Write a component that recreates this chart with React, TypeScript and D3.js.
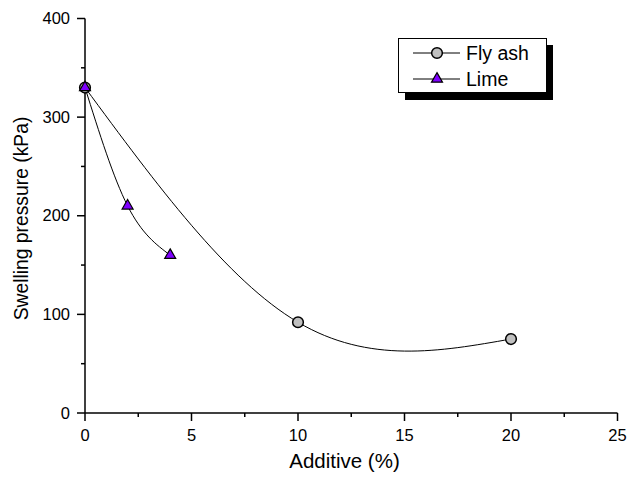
import React, { useEffect, useRef } from "react";
import * as d3 from "d3";

// Swelling pressure against additive content
const flyAshAdditive = [0, 10, 20];
const flyAshPressure = [330, 92, 75];
const limeAdditive = [0, 2, 4];
const limePressure = [330, 210, 160];

const xTicks = [0, 5, 10, 15, 20, 25];
const yTicks = [0, 100, 200, 300, 400];
const xMinorTicks = [2.5, 7.5, 12.5, 17.5, 22.5];
const yMinorTicks = [50, 150, 250, 350];

const W = 628;
const H = 477;
const FONT = "Arial, 'Liberation Sans', sans-serif";

export default function App() {
  const ref = useRef<SVGSVGElement>(null);

  useEffect(() => {
    const svg = d3.select(ref.current);
    svg.selectAll("*").remove();

    const x = d3.scaleLinear().domain([0, 25]).range([85, 617.5]);
    const y = d3.scaleLinear().domain([0, 400]).range([413, 18.5]);

    // axes
    const ax = svg.append("g").attr("stroke", "#000").attr("stroke-width", 1.5);
    ax.append("line").attr("x1", x(0)).attr("x2", x(25)).attr("y1", y(0)).attr("y2", y(0));
    ax.append("line").attr("x1", x(0)).attr("x2", x(0)).attr("y1", y(0)).attr("y2", y(400));

    xTicks.forEach((t) => {
      ax.append("line").attr("x1", x(t)).attr("x2", x(t)).attr("y1", y(0)).attr("y2", y(0) + 8);
    });
    xMinorTicks.forEach((t) => {
      ax.append("line").attr("x1", x(t)).attr("x2", x(t)).attr("y1", y(0)).attr("y2", y(0) + 4);
    });
    yTicks.forEach((t) => {
      ax.append("line").attr("x1", x(0) - 8).attr("x2", x(0)).attr("y1", y(t)).attr("y2", y(t));
    });
    yMinorTicks.forEach((t) => {
      ax.append("line").attr("x1", x(0) - 4).attr("x2", x(0)).attr("y1", y(t)).attr("y2", y(t));
    });

    const labels = svg.append("g").attr("font-family", FONT).attr("font-size", 16.5).attr("fill", "#000");
    xTicks.forEach((t) => {
      labels.append("text").attr("x", x(t)).attr("y", y(0) + 27.5).attr("text-anchor", "middle").text(t);
    });
    yTicks.forEach((t) => {
      labels.append("text").attr("x", x(0) - 15).attr("y", y(t) + 5.5).attr("text-anchor", "end").text(t);
    });

    svg.append("text")
      .attr("x", 344.5)
      .attr("y", 468)
      .attr("text-anchor", "middle")
      .attr("font-family", FONT)
      .attr("font-size", 20.5)
      .text("Additive (%)");

    svg.append("text")
      .attr("transform", `translate(28,218.5) rotate(-90)`)
      .attr("text-anchor", "middle")
      .attr("font-family", FONT)
      .attr("font-size", 19.3)
      .text("Swelling pressure (kPa)");

    // smoothed curves
    const line = d3.line<[number, number]>()
      .x((d) => x(d[0]))
      .y((d) => y(d[1]))
      .curve(d3.curveNatural);

    const flyPts = flyAshAdditive.map((a, i) => [a, flyAshPressure[i]] as [number, number]);
    const limePts = limeAdditive.map((a, i) => [a, limePressure[i]] as [number, number]);

    svg.append("path").attr("d", line(flyPts)).attr("fill", "none").attr("stroke", "#000").attr("stroke-width", 1);
    svg.append("path").attr("d", line(limePts)).attr("fill", "none").attr("stroke", "#000").attr("stroke-width", 1);

    const circle = d3.symbol().type(d3.symbolCircle).size(90);
    const tri = d3.symbol().type(d3.symbolTriangle).size(52);

    flyPts.forEach((p) => {
      svg.append("path")
        .attr("d", circle())
        .attr("transform", `translate(${x(p[0])},${y(p[1])})`)
        .attr("fill", "#c0c0c0")
        .attr("stroke", "#000")
        .attr("stroke-width", 1.5);
    });
    limePts.forEach((p) => {
      svg.append("path")
        .attr("d", tri())
        .attr("transform", `translate(${x(p[0])},${y(p[1])})`)
        .attr("fill", "#7f00ff")
        .attr("stroke", "#000")
        .attr("stroke-width", 1.2);
    });

    // legend
    const lg = svg.append("g");
    lg.append("rect").attr("x", 405).attr("y", 45).attr("width", 148).attr("height", 55).attr("fill", "#000");
    lg.append("rect").attr("x", 398.5).attr("y", 38.5).attr("width", 148).attr("height", 54)
      .attr("fill", "#fff").attr("stroke", "#000").attr("stroke-width", 1);

    const items = [
      { label: "Fly ash", yy: 53, shape: circle, fill: "#c0c0c0", sw: 1.5 },
      { label: "Lime", yy: 79, shape: tri, fill: "#7f00ff", sw: 1.2 },
    ];
    items.forEach((it) => {
      lg.append("line").attr("x1", 413).attr("x2", 460).attr("y1", it.yy).attr("y2", it.yy)
        .attr("stroke", "#000").attr("stroke-width", 1);
      lg.append("path").attr("d", it.shape()).attr("transform", `translate(437,${it.yy})`)
        .attr("fill", it.fill).attr("stroke", "#000").attr("stroke-width", it.sw);
      lg.append("text").attr("x", 466).attr("y", it.yy + 6.5)
        .attr("font-family", FONT).attr("font-size", 19.5).text(it.label);
    });
  }, []);

  return (
    <svg
      ref={ref}
      width={W}
      height={H}
      style={{ position: "absolute", left: 0, top: 0, background: "#fff" }}
    />
  );
}
